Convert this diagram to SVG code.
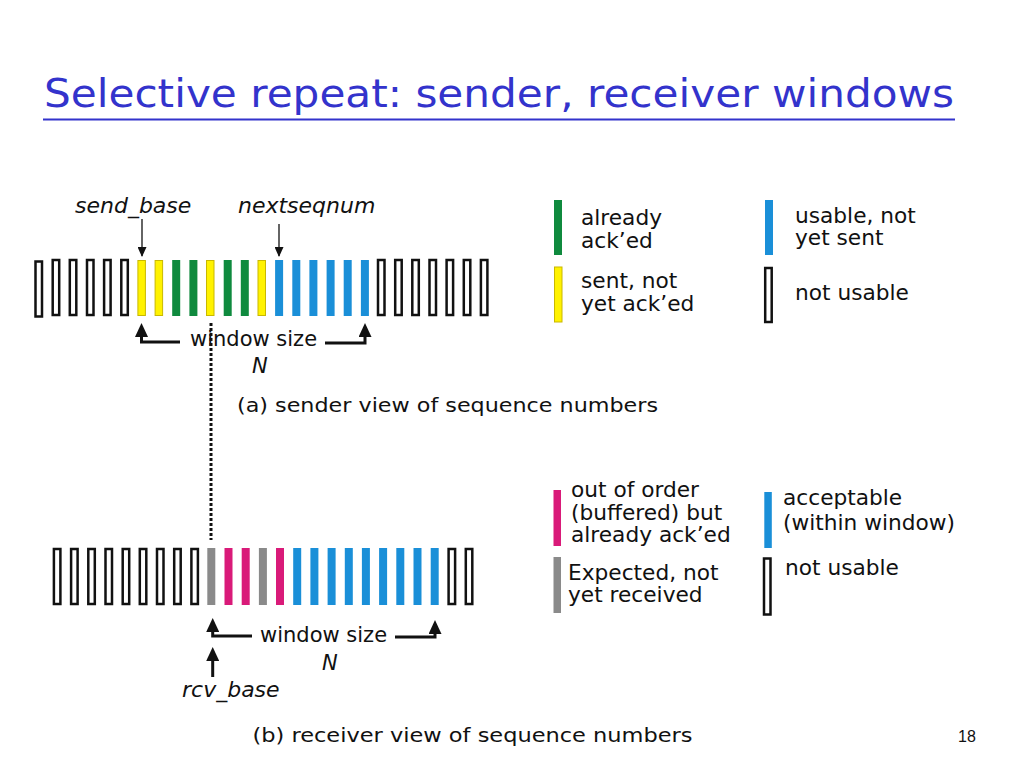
<svg xmlns="http://www.w3.org/2000/svg" width="1024" height="768" viewBox="0 0 1024 768">
<style>
text{font-family:"DejaVu Sans","Liberation Sans",sans-serif;fill:#111}
.t{font-size:21px}
.l{font-size:21.7px}
.i{font-size:22px;font-style:italic}
.cap{font-size:20px}
.o{fill:#fff;stroke:#111;stroke-width:2.5}
.y{fill:#fff200;stroke:#c9b800;stroke-width:1}
.g{fill:#0f8a3e}
.b{fill:#1a8fd8}
.m{fill:#d91a79}
.k{fill:#8a8a8a}
.thin{fill:none;stroke:#111;stroke-width:1.3}
.thick{fill:none;stroke:#111;stroke-width:3}
</style>
<defs>
<marker id="ah" markerUnits="userSpaceOnUse" markerWidth="10" markerHeight="9" refX="9" refY="4.5" orient="auto"><path d="M0,0 L10,4.5 L0,9 z" fill="#111"/></marker>
<marker id="ahb" markerUnits="userSpaceOnUse" markerWidth="14" markerHeight="13" refX="10" refY="6.5" orient="auto"><path d="M0,0 L14,6.5 L0,13 z" fill="#111"/></marker>
</defs>
<rect width="1024" height="768" fill="#fff"/>

<g id="title">
<text x="44" y="107" font-size="39" textLength="910" lengthAdjust="spacingAndGlyphs" style="fill:#3333cc">Selective repeat: sender, receiver windows</text>
<line x1="43" y1="119.5" x2="955" y2="119.5" stroke="#3333cc" stroke-width="2"/>
</g>

<g id="sender-window">
<rect class="o" x="35.5" y="261.5" width="6.5" height="55"/>
<rect class="o" x="52.7" y="260" width="6.5" height="55"/>
<rect class="o" x="69.8" y="260" width="6.5" height="55"/>
<rect class="o" x="87" y="260" width="6.5" height="55"/>
<rect class="o" x="104.1" y="260" width="6.5" height="55"/>
<rect class="o" x="121.3" y="260" width="6.5" height="55"/>
<rect class="y" x="137.9" y="260.5" width="7.5" height="55"/>
<rect class="y" x="155.1" y="260.5" width="7.5" height="55"/>
<rect class="g" x="172.2" y="260" width="8" height="56"/>
<rect class="g" x="189.4" y="260" width="8" height="56"/>
<rect class="y" x="206.5" y="260.5" width="7.5" height="55"/>
<rect class="g" x="223.7" y="260" width="8" height="56"/>
<rect class="g" x="240.8" y="260" width="8" height="56"/>
<rect class="y" x="258" y="260.5" width="7.5" height="55"/>
<rect class="b" x="275.1" y="260" width="8" height="56"/>
<rect class="b" x="292.3" y="260" width="8" height="56"/>
<rect class="b" x="309.4" y="260" width="8" height="56"/>
<rect class="b" x="326.6" y="260" width="8" height="56"/>
<rect class="b" x="343.7" y="260" width="8" height="56"/>
<rect class="b" x="360.9" y="260" width="8" height="56"/>
<rect class="o" x="378" y="260" width="6.5" height="55"/>
<rect class="o" x="395.2" y="260" width="6.5" height="55"/>
<rect class="o" x="412.3" y="260" width="6.5" height="55"/>
<rect class="o" x="429.5" y="260" width="6.5" height="55"/>
<rect class="o" x="446.6" y="260" width="6.5" height="55"/>
<rect class="o" x="463.8" y="260" width="6.5" height="55"/>
<rect class="o" x="480.9" y="260" width="6.5" height="55"/>
</g>

<g id="sender-labels">
<text class="i" x="75" y="213">send_base</text>
<text class="i" x="238" y="213">nextseqnum</text>
<text class="t" x="190" y="346">window size</text>
<text class="i" x="252" y="373" style="font-size:21px">N</text>
<text class="cap" x="237" y="412" textLength="421" lengthAdjust="spacingAndGlyphs">(a) sender view of sequence numbers</text>
</g>

<g id="sender-legend">
<g id="leg-acked"><rect class="g" x="554" y="200" width="8" height="55"/><text class="l" x="581" y="225">already</text><text class="l" x="581" y="248">ack’ed</text></g>
<g id="leg-sent"><rect class="y" x="554.5" y="267" width="7.5" height="55"/><text class="l" x="581" y="288">sent, not</text><text class="l" x="581" y="311">yet ack’ed</text></g>
<g id="leg-usable"><rect class="b" x="765" y="200" width="8" height="55"/><text class="l" x="795" y="223">usable, not</text><text class="l" x="795" y="245">yet sent</text></g>
<g id="leg-notusable-s"><rect class="o" x="765.2" y="268" width="6.5" height="54"/><text class="l" x="795" y="300">not usable</text></g>
</g>

<g id="receiver-window">
<rect class="o" x="53.9" y="549" width="6.5" height="55"/>
<rect class="o" x="71.1" y="549" width="6.5" height="55"/>
<rect class="o" x="88.3" y="549" width="6.5" height="55"/>
<rect class="o" x="105.5" y="549" width="6.5" height="55"/>
<rect class="o" x="122.7" y="549" width="6.5" height="55"/>
<rect class="o" x="139.8" y="549" width="6.5" height="55"/>
<rect class="o" x="157" y="549" width="6.5" height="55"/>
<rect class="o" x="174.2" y="549" width="6.5" height="55"/>
<rect class="o" x="191.4" y="549" width="6.5" height="55"/>
<rect class="k" x="207.3" y="548" width="8" height="57"/>
<rect class="m" x="224.5" y="548" width="8" height="57"/>
<rect class="m" x="241.7" y="548" width="8" height="57"/>
<rect class="k" x="258.9" y="548" width="8" height="57"/>
<rect class="m" x="276" y="548" width="8" height="57"/>
<rect class="b" x="293.2" y="548" width="8" height="57"/>
<rect class="b" x="310.4" y="548" width="8" height="57"/>
<rect class="b" x="327.6" y="548" width="8" height="57"/>
<rect class="b" x="344.8" y="548" width="8" height="57"/>
<rect class="b" x="361.9" y="548" width="8" height="57"/>
<rect class="b" x="379.1" y="548" width="8" height="57"/>
<rect class="b" x="396.3" y="548" width="8" height="57"/>
<rect class="b" x="413.5" y="548" width="8" height="57"/>
<rect class="b" x="430.7" y="548" width="8" height="57"/>
<rect class="o" x="448.6" y="549" width="6.5" height="55"/>
<rect class="o" x="465.8" y="549" width="6.5" height="55"/>
</g>

<g id="receiver-labels">
<text class="t" x="260" y="642">window size</text>
<text class="i" x="322" y="670" style="font-size:21px">N</text>
<text class="i" x="182" y="697">rcv_base</text>
<text class="cap" x="252.5" y="742" textLength="440" lengthAdjust="spacingAndGlyphs">(b) receiver view of sequence numbers</text>
</g>

<g id="receiver-legend">
<g id="leg-ooo"><rect class="m" x="553.5" y="490" width="7.5" height="56"/><text class="l" x="571" y="497">out of order</text><text class="l" x="571" y="520">(buffered) but</text><text class="l" x="571" y="542">already ack’ed</text></g>
<g id="leg-expected"><rect class="k" x="553.5" y="557" width="7.5" height="56"/><text class="l" x="568" y="580">Expected,  not</text><text class="l" x="568" y="602">yet received</text></g>
<g id="leg-acceptable"><rect class="b" x="764.3" y="492" width="7.5" height="56"/><text class="l" x="783" y="505">acceptable</text><text class="l" x="783" y="530">(within window)</text></g>
<g id="leg-notusable-r"><rect class="o" x="764" y="558.5" width="6.5" height="56"/><text class="l" x="785" y="575">not usable</text></g>
</g>

<g id="page-number"><text x="958" y="742" style="font-family:'Liberation Sans',sans-serif;font-size:16px">18</text></g>

<g id="connectors">
<line class="thin" x1="142" y1="219" x2="142" y2="256" marker-end="url(#ah)"/>
<line class="thin" x1="279" y1="224" x2="279" y2="256" marker-end="url(#ah)"/>
<path class="thick" d="M180,342 H141.5 V327" marker-end="url(#ahb)"/>
<path class="thick" d="M325,343 H365 V327" marker-end="url(#ahb)"/>
<line x1="211" y1="323" x2="211" y2="540" stroke="#111" stroke-width="3" stroke-dasharray="3 2"/>
<path class="thick" d="M252,636 H212.7 V622" marker-end="url(#ahb)"/>
<path class="thick" d="M395,637 H435 V624" marker-end="url(#ahb)"/>
<line class="thick" x1="212.7" y1="677" x2="212.7" y2="651" marker-end="url(#ahb)"/>
</g>
</svg>
